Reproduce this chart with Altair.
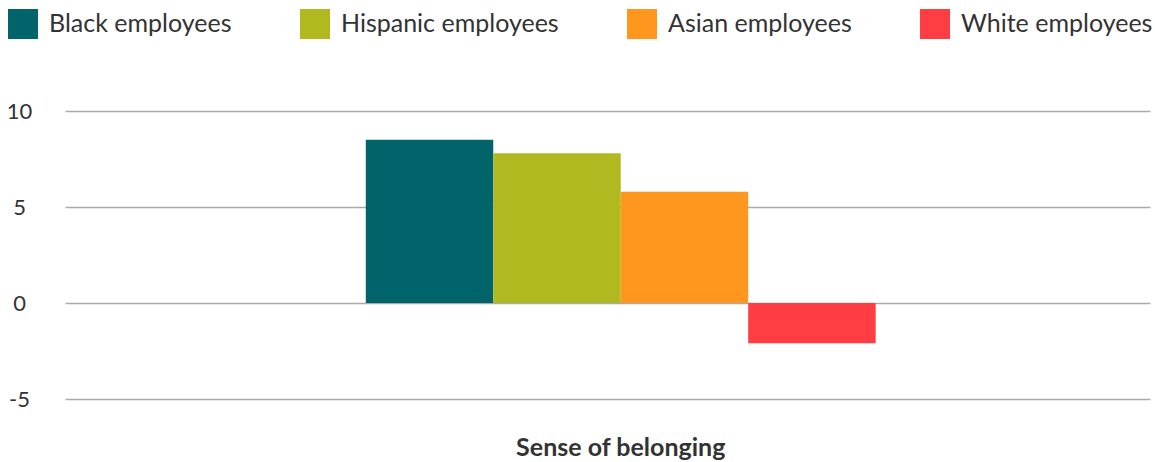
import altair as alt
import pandas as pd

categories = ["Sense of belonging"]
series = ["Black employees", "Hispanic employees", "Asian employees", "White employees"]
values = [8.5, 7.8, 5.8, -2.1]
colors = ["#02646B", "#B0B91F", "#FF961E", "#FF3D42"]

df = pd.DataFrame({
    "category": categories * len(series),
    "series": series,
    "value": values,
})

FONT = "Lato"

chart = alt.Chart(df).mark_bar().encode(
    x=alt.X("category:N", title=None,
            scale=alt.Scale(paddingInner=0, paddingOuter=0.564, align=0.523),
            axis=alt.Axis(labelAngle=0, labelFontWeight="bold", labelFontSize=25,
                          labelColor="#333333", labelFont=FONT, labelPadding=36,
                          labelLimit=400,
                          domain=False, ticks=False, grid=False)),
    xOffset=alt.XOffset("series:N", sort=series,
                        scale=alt.Scale(paddingInner=0, paddingOuter=0)),
    y=alt.Y("value:Q", title=None,
            scale=alt.Scale(domain=[-5, 10], nice=False, zero=False),
            axis=alt.Axis(values=[-5, 0, 5, 10], domain=False, ticks=False,
                          grid=True, gridColor="#AAAAAA", gridWidth=1.5,
                          labelExpr="datum.value + ''",
                          labelFontSize=22, labelColor="#333333", labelFont=FONT,
                          labelAlign="center", labelPadding=46, labelBaseline="middle")),
    color=alt.Color("series:N", sort=series,
                    scale=alt.Scale(domain=series, range=colors),
                    legend=alt.Legend(title=None, orient="none", direction="horizontal",
                                      legendX=-57, legendY=-102,
                                      symbolType="square", symbolSize=900,
                                      symbolStrokeWidth=0, symbolOpacity=1,
                                      labelFontSize=25, labelFont=FONT, labelLimit=400,
                                      labelColor="#333333", labelOffset=11,
                                      columnPadding=68, padding=0)),
).properties(
    width=1085, height=288,
    padding={"left": 65, "top": 111, "right": 5, "bottom": 63},
    autosize=alt.AutoSizeParams(type="none"),
).configure_view(stroke=None)

chart.save("out.html", embed_options={"renderer": "svg", "actions": False})
